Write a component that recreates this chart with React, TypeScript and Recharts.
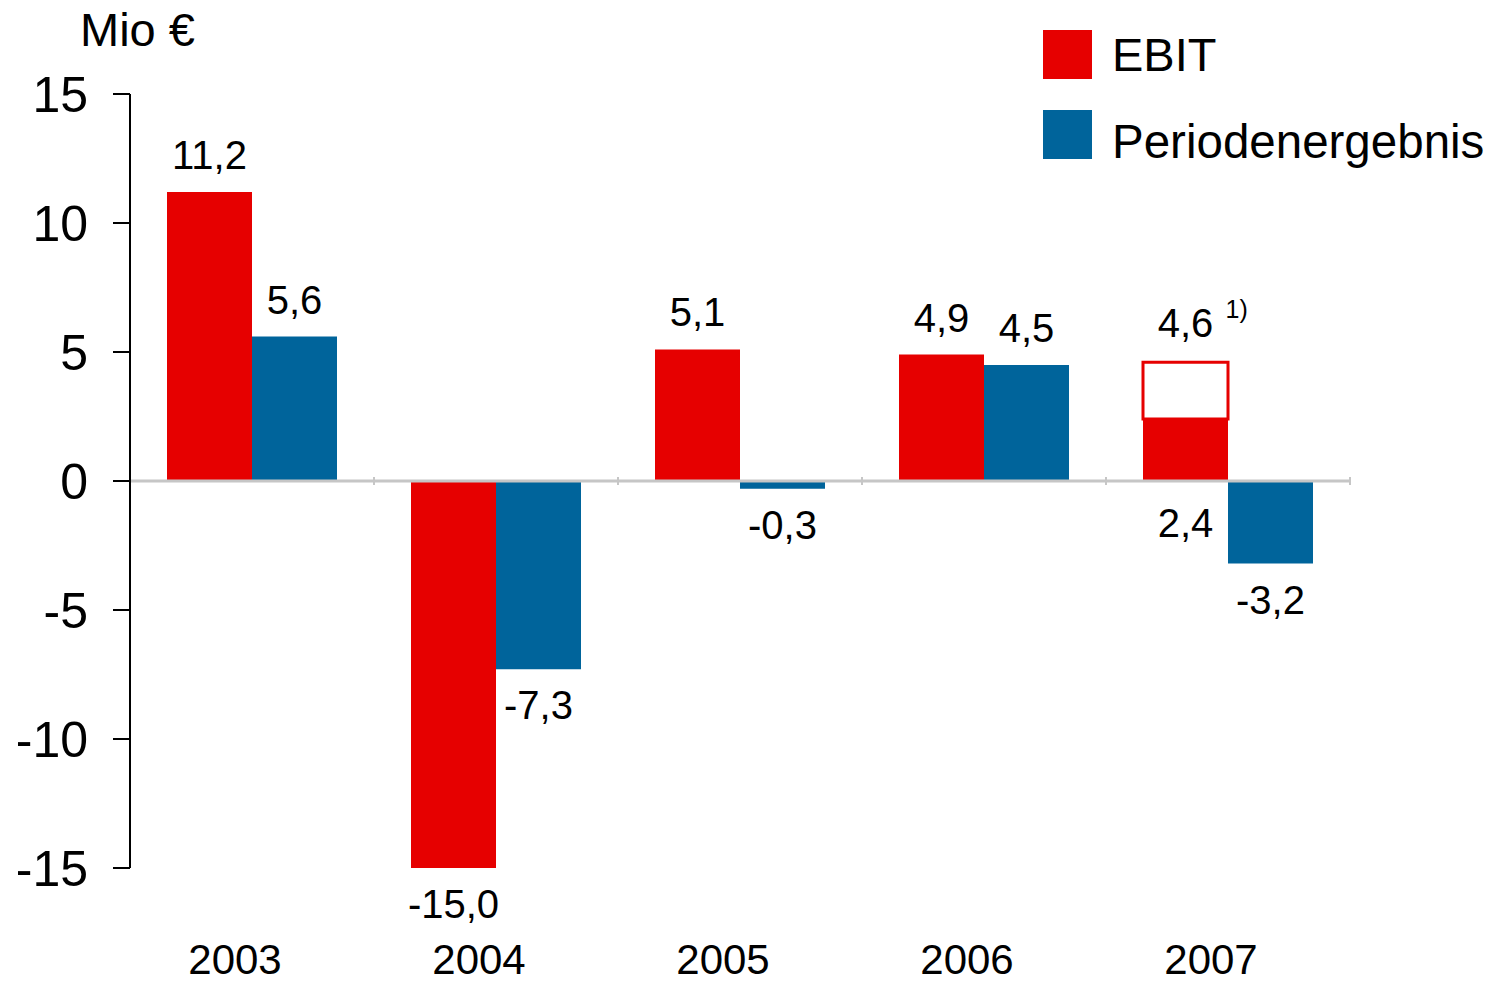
import React from 'react';
import { BarChart, Bar, XAxis, YAxis, ReferenceLine, LabelList, Legend } from 'recharts';

const years = ['2003', '2004', '2005', '2006', '2007'];
const ebit = [11.2, -15.0, 5.1, 4.9, 4.6];
// 2007: adjusted EBIT shown as solid part, rest of reported value as outlined box
const ebitAdjusted = [null, null, null, null, 2.4];
const ebitFootnote = [null, null, null, null, '1)'];
const periodenergebnis = [5.6, -7.3, -0.3, 4.5, -3.2];
const yTicks = [-15, -10, -5, 0, 5, 10, 15];

const RED = '#e60000';
const BLUE = '#00649b';
const FONT = '"Liberation Sans", Arial, Helvetica, sans-serif';

const data = years.map((year, i) => {
  const adj = ebitAdjusted[i];
  return {
    year,
    ebitSolid: adj ?? ebit[i],
    ebitOpen: adj != null ? ebit[i] - adj : null,
    openTotal: adj != null ? ebit[i] : null,
    note: ebitFootnote[i],
    pe: periodenergebnis[i],
  };
});

const fmt = (v: number) => v.toFixed(1).replace('.', ',');

const box = (props: any) => {
  const vb = props.viewBox ?? props;
  const { x, y, width, height } = vb;
  return {
    cx: x + width / 2,
    top: Math.min(y, y + height),
    bottom: Math.max(y, y + height),
  };
};

const valueText = (cx: number, top: number, bottom: number, v: number) => (
  <text
    x={cx}
    y={v >= 0 ? top - 23 : bottom + 50}
    textAnchor="middle"
    fontSize={40}
    fill="#000"
    fontFamily={FONT}
  >
    {fmt(v)}
  </text>
);

const SolidLabel = (props: any) => {
  const row = data[props.index];
  if (!row) return null;
  const { cx, top, bottom } = box(props);
  if (row.ebitOpen != null) {
    // adjusted value written under the zero line
    return (
      <text x={cx} y={bottom + 56} textAnchor="middle" fontSize={40} fill="#000" fontFamily={FONT}>
        {fmt(row.ebitSolid)}
      </text>
    );
  }
  return valueText(cx, top, bottom, row.ebitSolid);
};

const OpenTotalLabel = (props: any) => {
  if (props.value == null) return null;
  const { cx, top } = box(props);
  return (
    <text x={cx} y={top - 25} textAnchor="middle" fontSize={40} fill="#000" fontFamily={FONT}>
      {fmt(Number(props.value))}
    </text>
  );
};

const NoteLabel = (props: any) => {
  if (!props.value) return null;
  const { cx, top } = box(props);
  return (
    <text x={cx + 40} y={top - 44} fontSize={25} fill="#000" fontFamily={FONT}>
      {props.value}
    </text>
  );
};

const PeLabel = (props: any) => {
  const row = data[props.index];
  if (!row) return null;
  const { cx, top, bottom } = box(props);
  return valueText(cx, top, bottom, row.pe);
};

const YearTick = (props: any) => {
  const { x, y, payload } = props;
  return (
    <text x={x - 17} y={y} dy={98} textAnchor="middle" fontSize={42} fill="#000" fontFamily={FONT}>
      {payload.value}
    </text>
  );
};

// grey zero line with small marks at the category borders
const ZeroLine = (props: any) => {
  const { x1, y1, x2, y2 } = props;
  if (x1 == null) return null;
  const step = (x2 - x1) / years.length;
  return (
    <g>
      <line x1={x1} y1={y1} x2={x2} y2={y2} stroke="#c6c6c6" strokeWidth={3} />
      {years.map((_, i) => (
        <line
          key={i}
          x1={x1 + step * (i + 1)}
          x2={x1 + step * (i + 1)}
          y1={y1 - 4}
          y2={y1 + 4}
          stroke="#c6c6c6"
          strokeWidth={2}
        />
      ))}
    </g>
  );
};

const LegendBox = () => (
  <svg width={460} height={160} style={{ display: 'block' }}>
    <rect x={0} y={10} width={49} height={49} fill={RED} />
    <text x={69} y={51} fontSize={47} fill="#000" fontFamily={FONT}>EBIT</text>
    <rect x={0} y={90} width={49} height={49} fill={BLUE} />
    <text x={69} y={138} fontSize={47.5} fill="#000" fontFamily={FONT}>Periodenergebnis</text>
  </svg>
);

export default function App() {
  return (
    <div style={{ position: 'absolute', left: 0, top: 0, width: 1497, height: 983, background: '#fff', fontFamily: FONT }}>
      <div style={{ position: 'absolute', left: 80, top: 6, fontSize: 47, lineHeight: 1, color: '#000' }}>
        Mio €
      </div>
      <BarChart
        width={1497}
        height={983}
        data={data}
        margin={{ top: 94, right: 147, left: 0, bottom: 0 }}
        barCategoryGap={37}
        barGap={0}
      >
        <XAxis
          dataKey="year"
          axisLine={false}
          tickLine={false}
          height={115}
          tick={<YearTick />}
          interval={0}
        />
        <YAxis
          domain={[-15, 15]}
          ticks={yTicks}
          width={130}
          interval={0}
          allowDataOverflow
          axisLine={{ stroke: '#000', strokeWidth: 2 }}
          tickLine={{ stroke: '#000', strokeWidth: 2 }}
          tickSize={17}
          tickMargin={25}
          tick={{ fontSize: 50, fill: '#000', fontFamily: FONT }}
        />
        <Legend
          layout="horizontal"
          verticalAlign="middle"
          align="center"
          wrapperStyle={{ left: 1043, top: 20, width: 460 }}
          content={<LegendBox />}
        />
        <Bar dataKey="ebitSolid" name="EBIT" stackId="ebit" fill={RED} isAnimationActive={false}>
          <LabelList content={<SolidLabel />} />
        </Bar>
        <Bar
          dataKey="ebitOpen"
          stackId="ebit"
          fill="#fff"
          stroke={RED}
          strokeWidth={3}
          isAnimationActive={false}
        >
          <LabelList dataKey="openTotal" content={<OpenTotalLabel />} />
          <LabelList dataKey="note" content={<NoteLabel />} />
        </Bar>
        <Bar dataKey="pe" name="Periodenergebnis" stackId="pe" fill={BLUE} isAnimationActive={false}>
          <LabelList content={<PeLabel />} />
        </Bar>
        <ReferenceLine y={0} shape={<ZeroLine />} />
      </BarChart>
    </div>
  );
}
